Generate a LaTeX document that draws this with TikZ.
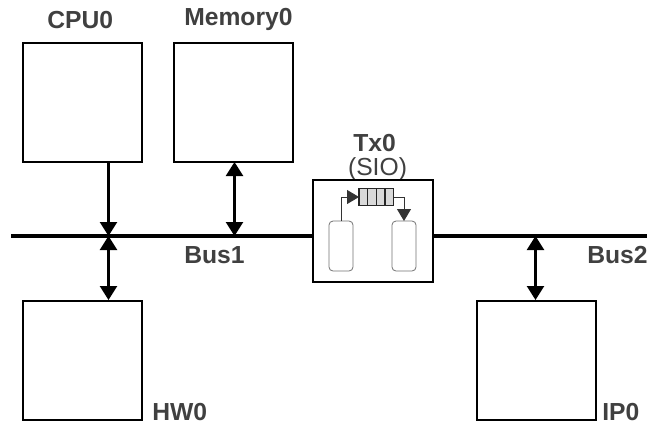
\documentclass[tikz,border=0pt]{standalone}
\usepackage{fontspec}
\setmainfont{Liberation Sans}
\usetikzlibrary{arrows.meta}
\definecolor{lbl}{HTML}{404040}
\tikzset{
 x=0.75pt,y=-0.75pt,
 blockbox/.style={draw=black,line width=1.5pt,fill=white,minimum width=89.25pt,minimum height=89.25pt,inner sep=0,outer sep=0,anchor=north west},
 txbox/.style={draw=black,line width=1.5pt,fill=white,minimum width=90pt,minimum height=76.5pt,inner sep=0,outer sep=0,anchor=north west},
 inner/.style={draw=black!55,line width=0.6pt,rounded corners=3pt,fill=white,minimum width=18pt,minimum height=37.5pt,inner sep=0,outer sep=0,anchor=north west},
 slot/.style={draw=black!85,line width=0.8pt,fill=black!15,minimum width=6.5pt,minimum height=12.75pt,inner sep=0,outer sep=0,anchor=north west},
 lab/.style={font=\fontsize{18.5}{18.5}\selectfont\bfseries,text=lbl,inner sep=0,anchor=base west},
 bus/.style={draw=black,line width=3pt},
 dbl/.style={draw=black,line width=1.8pt,{Triangle[width=12.75pt,length=10.5pt]}-{Triangle[width=12.75pt,length=10.5pt]}},
 sgl/.style={draw=black,line width=1.8pt,-{Triangle[width=12.75pt,length=10.5pt]}},
 thin/.style={draw=black!80,line width=0.7pt},
 tiny/.style={-{Triangle[width=10.5pt,length=9pt]}}
}
\begin{document}
\begin{tikzpicture}
\useasboundingbox (0,0) rectangle (647,426);
\coordinate (busL) at (11,236);
\coordinate (busR) at (647,236);
\coordinate (tapA) at (108.5,236);
\coordinate (tapB) at (234.5,236);
\coordinate (tapC) at (535.5,236);
\draw[bus] (busL) -- (busR);
\node[blockbox] (cpu) at (23,43) {};
\node[blockbox] (mem) at (174,43) {};
\node[blockbox] (hw) at (23,301) {};
\node[blockbox] (ip) at (477,301) {};
\node[font=\fontsize{18.5}{18.5}\selectfont,text=lbl,inner sep=0,anchor=base] (tSIO) at (377.5,175) {(SIO)};
\node[txbox] (tx) at (313,180) {};
\coordinate (cpuOut) at (108.5,162);
\coordinate (memOut) at (234.5,162);
\coordinate (hwOut) at (108.5,300);
\coordinate (ipOut) at (535.5,300);
\draw[sgl] (cpuOut) -- (tapA);
\draw[dbl] (memOut) -- (tapB);
\draw[dbl] (tapA) -- (hwOut);
\draw[dbl] (tapC) -- (ipOut);
\node[inner] (src) at (329,221) {};
\node[inner] (dst) at (392,221) {};
\node[slot] (s1) at (359,188.5) {};
\node[slot] (s2) at (367.7,188.5) {};
\node[slot] (s3) at (376.4,188.5) {};
\node[slot] (s4) at (385,188.5) {};
\draw[thin,tiny] (src.north) |- (s1.west);
\draw[thin,tiny] (s4.east) -| (dst.north);
\node[lab] (tCPU) at (47,28) {CPU0};
\node[lab] (tMem) at (184,25.5) {Memory0};
\node[lab] (tBus1) at (184,263) {Bus1};
\node[lab] (tBus2) at (587,263) {Bus2};
\node[lab] (tHW) at (152,420) {HW0};
\node[lab] (tIP) at (602,420) {IP0};
\node[lab] (tTx) at (353,151) {Tx0};
\end{tikzpicture}
\end{document}
